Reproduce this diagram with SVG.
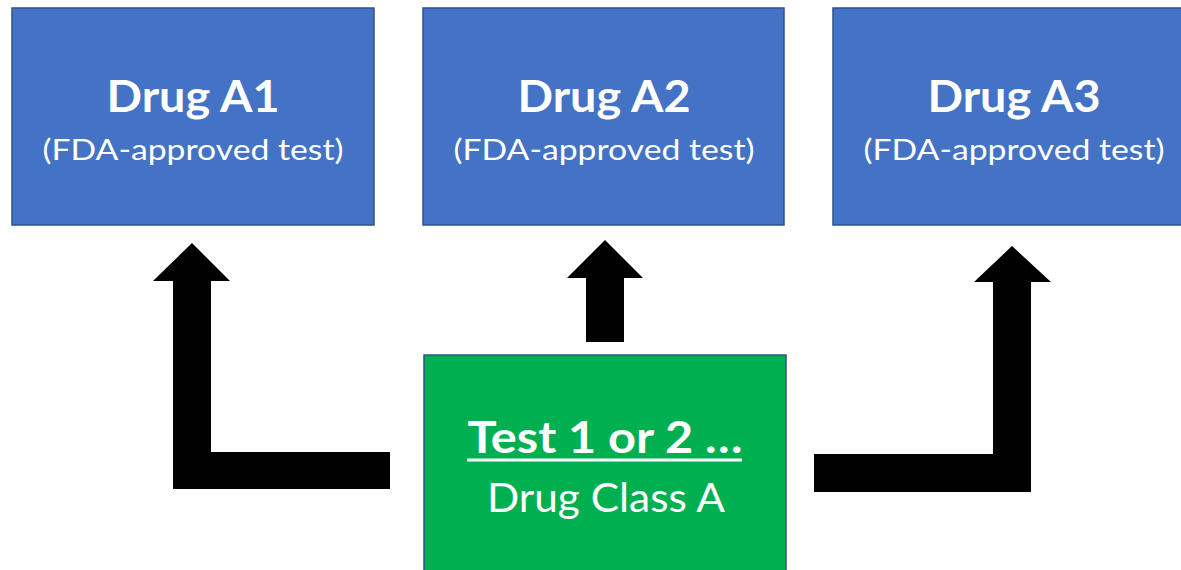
<svg xmlns="http://www.w3.org/2000/svg" width="1181" height="570" viewBox="0 0 1181 570">
<style>
.box{fill:#4472C4;stroke:#2F528F;stroke-width:1.5}
.gbox{fill:#00B050;stroke:#2F528F;stroke-width:1.5}
.t{font-family:Lato,"Open Sans",sans-serif;fill:#fff;text-anchor:middle}
.b{font-weight:bold;font-size:43px}
.r{font-size:29px}
.arr{fill:#000}
</style>
<rect width="1181" height="570" fill="#fff"/>
<g id="drugA1">
<rect class="box" x="12" y="8" width="362" height="217"/>
<text class="t b" x="193" y="112" textLength="173" lengthAdjust="spacingAndGlyphs">Drug A1</text>
<text class="t r" x="193" y="160" textLength="301" lengthAdjust="spacingAndGlyphs">(FDA-approved test)</text>
</g>
<g id="drugA2">
<rect class="box" x="423" y="8" width="361" height="217"/>
<text class="t b" x="604" y="112" textLength="173" lengthAdjust="spacingAndGlyphs">Drug A2</text>
<text class="t r" x="604" y="160" textLength="301" lengthAdjust="spacingAndGlyphs">(FDA-approved test)</text>
</g>
<g id="drugA3">
<rect class="box" x="833" y="8" width="362" height="217"/>
<text class="t b" x="1014" y="112" textLength="173" lengthAdjust="spacingAndGlyphs">Drug A3</text>
<text class="t r" x="1014" y="160" textLength="301" lengthAdjust="spacingAndGlyphs">(FDA-approved test)</text>
</g>
<g id="testClass">
<rect class="gbox" x="424" y="355" width="362" height="230"/>
<text class="t b" x="605" y="453" font-size="45" textLength="275" lengthAdjust="spacingAndGlyphs">Test 1 or 2 …</text>
<rect x="467" y="458.5" width="275" height="3" fill="#fff"/>
<text class="t" x="606" y="512" font-size="41" textLength="238" lengthAdjust="spacingAndGlyphs">Drug Class A</text>
</g>
<g id="connectors">
<path class="arr" d="M390,452 H211 V281 H230 L192,243 L153,281 H173 V489 H390 Z"/>
<path class="arr" d="M586,342 V278 H567 L605,240 L643,278 H624 V342 Z"/>
<path class="arr" d="M814,454 H993 V282 H974 L1012,246 L1051,282 H1031 V492 H814 Z"/>
</g>
</svg>
